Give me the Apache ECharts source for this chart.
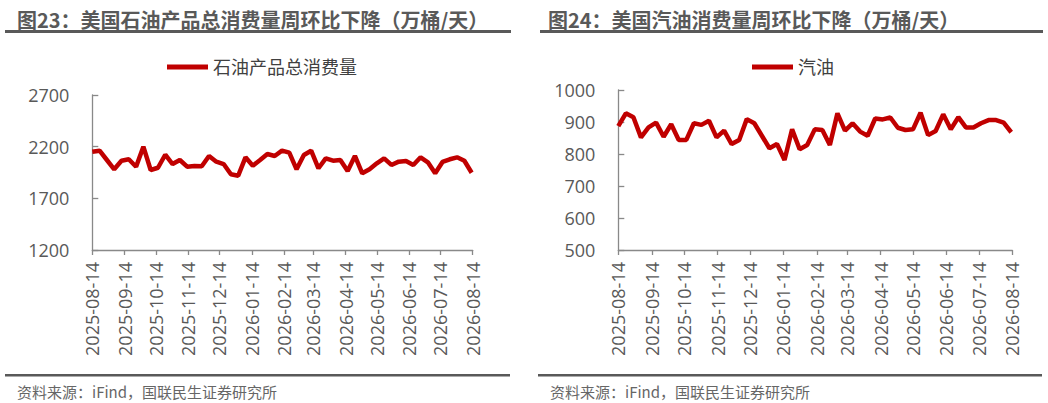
<!DOCTYPE html>
<html>
<head>
<meta charset="utf-8">
<script src="https://cdn.jsdelivr.net/npm/echarts@6/dist/echarts.min.js"></script>
<style>
html,body{margin:0;padding:0;background:#fff;}
#c{width:1048px;height:403px;}
</style>
</head>
<body>
<div id="c"></div>
<script>
// weekly dates
const dates = [
  '2025-08-14','2025-08-21','2025-08-28','2025-09-04','2025-09-11','2025-09-18','2025-09-25',
  '2025-10-02','2025-10-09','2025-10-16','2025-10-23','2025-10-30','2025-11-06','2025-11-13',
  '2025-11-20','2025-11-27','2025-12-04','2025-12-11','2025-12-18','2025-12-25','2026-01-01',
  '2026-01-08','2026-01-15','2026-01-22','2026-01-29','2026-02-05','2026-02-12','2026-02-19',
  '2026-02-26','2026-03-05','2026-03-12','2026-03-19','2026-03-26','2026-04-02','2026-04-09',
  '2026-04-16','2026-04-23','2026-04-30','2026-05-07','2026-05-14','2026-05-21','2026-05-28',
  '2026-06-04','2026-06-11','2026-06-18','2026-06-25','2026-07-02','2026-07-09','2026-07-16',
  '2026-07-23','2026-07-30','2026-08-06','2026-08-13'
];
// 石油产品总消费量 (万桶/天)
const totalProducts = [
  2151, 2161, 2071, 1981, 2064, 2078, 2006, 2200, 1974, 1996,
  2122, 2032, 2071, 2006, 2013, 2010, 2110, 2055, 2032, 1933,
  1919, 2097, 2016, 2071, 2129, 2110, 2161, 2142, 1981, 2119,
  2161, 1991, 2087, 2064, 2071, 1965, 2110, 1942, 1981, 2039,
  2087, 2023, 2055, 2061, 2023, 2097, 2049, 1942, 2052, 2078,
  2097, 2064, 1948
];
// 汽油 (万桶/天)
const gasoline = [
  887, 927, 915, 852, 883, 898, 854, 893, 844, 844,
  896, 891, 904, 852, 873, 831, 844, 909, 896, 857,
  818, 831, 781, 877, 815, 828, 877, 875, 828, 927,
  873, 896, 870, 857, 911, 908, 914, 882, 875, 877,
  929, 859, 872, 924, 877, 915, 883, 883, 896, 906,
  906, 898, 868
];
// x-axis tick labels
const tickLabels = [
  '2025-08-14','2025-09-14','2025-10-14','2025-11-14','2025-12-14','2026-01-14','2026-02-14',
  '2026-03-14','2026-04-14','2026-05-14','2026-06-14','2026-07-14','2026-08-14'
];
const titleLeft = '图23：美国石油产品总消费量周环比下降（万桶/天）';
const titleRight = '图24：美国汽油消费量周环比下降（万桶/天）';
const sourceText = '资料来源：iFind，国联民生证券研究所';
const seriesNames = ['石油产品总消费量', '汽油'];

function ts(s){ const p = s.split('-'); return new Date(+p[0], +p[1]-1, +p[2]).getTime(); }
function pad(n){ return (n<10?'0':'') + n; }
function fmt(v){ const d = new Date(Math.round(v)); return d.getFullYear() + '-' + pad(d.getMonth()+1) + '-' + pad(d.getDate()); }

const tickTs = tickLabels.map(ts);
const AXIS_COLOR = '#898989';
const LABEL_COLOR = '#595959';
const FONT = '"Open Sans", "Noto Sans CJK SC", sans-serif';

function xAxisCfg(gi){
  return {
    type: 'value', gridIndex: gi, scale: true,
    min: tickTs[0], max: tickTs[tickTs.length-1],
    axisLine: {show: true, lineStyle: {color: AXIS_COLOR, width: 1.3}},
    axisTick: {show: true, customValues: tickTs, length: 5, lineStyle: {color: AXIS_COLOR, width: 1.3}},
    axisLabel: {customValues: tickTs, rotate: 90, formatter: fmt, fontSize: 18, color: LABEL_COLOR,
      fontFamily: FONT, margin: 12, showMinLabel: true, showMaxLabel: true, hideOverlap: false},
    splitLine: {show: false}
  };
}
function yAxisCfg(gi, min, max, interval){
  return {
    type: 'value', gridIndex: gi, min: min, max: max, interval: interval,
    axisLine: {show: true, lineStyle: {color: AXIS_COLOR, width: 1.3}},
    axisTick: {show: true, inside: true, length: 6, lineStyle: {color: AXIS_COLOR, width: 1.3}},
    axisLabel: {fontSize: 18, color: LABEL_COLOR, fontFamily: FONT, margin: 23, formatter: v => String(v)},
    splitLine: {show: false}
  };
}

const chart = echarts.init(document.getElementById('c'), null, {renderer: 'svg'});
chart.setOption({
  animation: false,
  backgroundColor: '#ffffff',
  grid: [
    {left: 92.3, top: 95, width: 380.4, height: 155},
    {left: 618.3, top: 90, width: 394, height: 160}
  ],
  legend: [
    {data: [seriesNames[0]], left: 167, top: 58, padding: 0, icon: 'rect', itemWidth: 41, itemHeight: 5,
     textStyle: {fontSize: 18, color: '#404040', fontFamily: FONT}},
    {data: [seriesNames[1]], left: 752, top: 58, padding: 0, icon: 'rect', itemWidth: 41, itemHeight: 5,
     textStyle: {fontSize: 18, color: '#404040', fontFamily: FONT}}
  ],
  xAxis: [xAxisCfg(0), xAxisCfg(1)],
  yAxis: [yAxisCfg(0, 1200, 2700, 500), yAxisCfg(1, 500, 1000, 100)],
  series: [
    {name: seriesNames[0], type: 'line', xAxisIndex: 0, yAxisIndex: 0, symbol: 'none', showSymbol: false,
     lineStyle: {color: '#C00000', width: 4.5}, itemStyle: {color: '#C00000'},
     data: dates.map((d, i) => [ts(d), totalProducts[i]])},
    {name: seriesNames[1], type: 'line', xAxisIndex: 1, yAxisIndex: 1, symbol: 'none', showSymbol: false,
     lineStyle: {color: '#C00000', width: 4.5}, itemStyle: {color: '#C00000'},
     data: dates.map((d, i) => [ts(d), gasoline[i]])}
  ],
  graphic: [
    {type: 'text', x: 17, y: 19, style: {text: titleLeft, fontSize: 20, fontWeight: 'bold',
      fontFamily: '"Noto Sans CJK SC", sans-serif', fill: '#595959', verticalAlign: 'middle'}},
    {type: 'text', x: 548, y: 19, style: {text: titleRight, fontSize: 20, fontWeight: 'bold',
      fontFamily: '"Noto Sans CJK SC", sans-serif', fill: '#595959', verticalAlign: 'middle'}},
    {type: 'rect', shape: {x: 5, y: 30, width: 506, height: 3}, style: {fill: '#595959'}},
    {type: 'rect', shape: {x: 540, y: 30, width: 503, height: 3}, style: {fill: '#595959'}},
    {type: 'rect', shape: {x: 5, y: 374, width: 505, height: 2.5}, style: {fill: '#595959'}},
    {type: 'rect', shape: {x: 538, y: 374, width: 504, height: 2.5}, style: {fill: '#595959'}},
    {type: 'text', x: 17, y: 391, style: {text: sourceText, fontSize: 15,
      fontFamily: '"Noto Sans CJK SC", sans-serif', fill: '#666666', verticalAlign: 'middle'}},
    {type: 'text', x: 550, y: 391, style: {text: sourceText, fontSize: 15,
      fontFamily: '"Noto Sans CJK SC", sans-serif', fill: '#666666', verticalAlign: 'middle'}}
  ]
});
</script>
</body>
</html>
